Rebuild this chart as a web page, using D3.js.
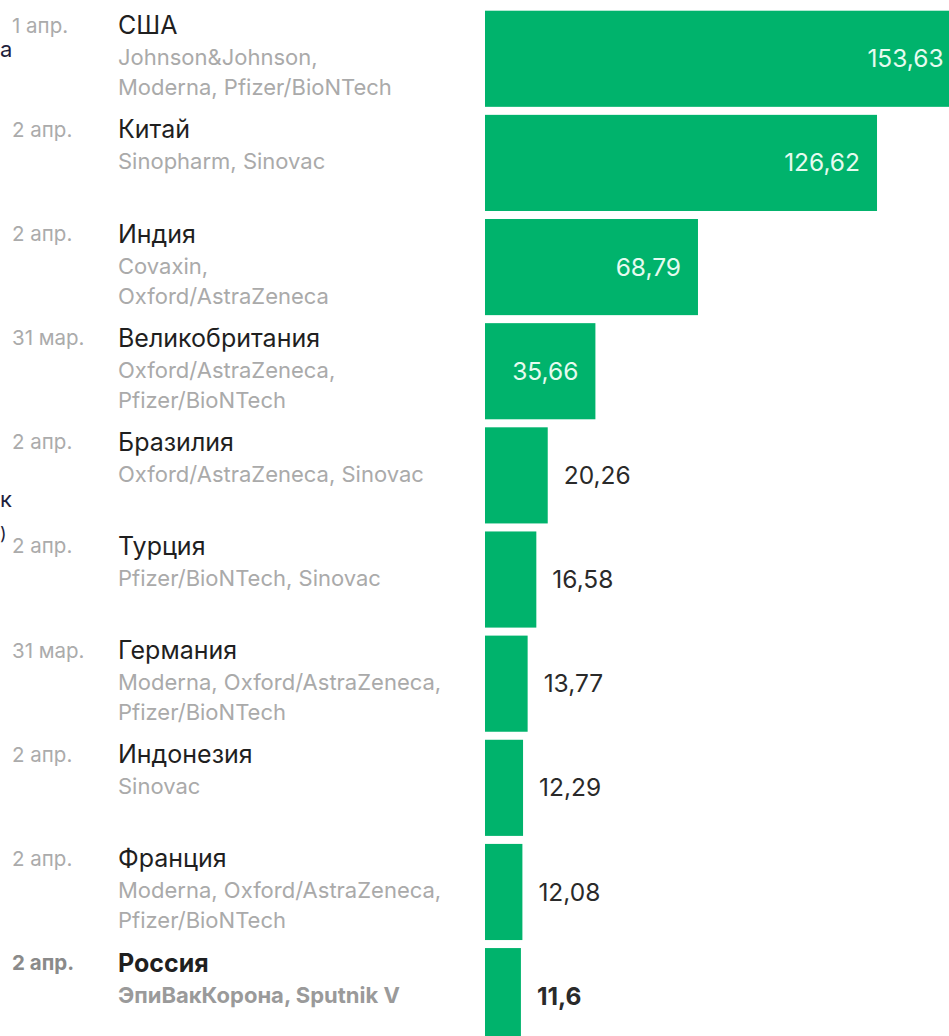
<!DOCTYPE html>
<html>
<head>
<meta charset="utf-8">
<script src="https://cdn.jsdelivr.net/npm/d3@7"></script>
<style>
  html, body { margin: 0; padding: 0; background: #fff; overflow: hidden; }
  svg { display: block; font-family: Inter, Roboto, "Noto Sans", sans-serif; }
</style>
</head>
<body>
<div id="container"></div>
<script>
// data
const countries = ['США', 'Китай', 'Индия', 'Великобритания', 'Бразилия',
                   'Турция', 'Германия', 'Индонезия', 'Франция', 'Россия'];
const dates = ['1 апр.', '2 апр.', '2 апр.', '31 мар.', '2 апр.',
               '2 апр.', '31 мар.', '2 апр.', '2 апр.', '2 апр.'];
const vaccines = [
    ['Johnson&Johnson,', 'Moderna, Pfizer/BioNTech'],
    ['Sinopharm, Sinovac'],
    ['Covaxin,', 'Oxford/AstraZeneca'],
    ['Oxford/AstraZeneca,', 'Pfizer/BioNTech'],
    ['Oxford/AstraZeneca, Sinovac'],
    ['Pfizer/BioNTech, Sinovac'],
    ['Moderna, Oxford/AstraZeneca,', 'Pfizer/BioNTech'],
    ['Sinovac'],
    ['Moderna, Oxford/AstraZeneca,', 'Pfizer/BioNTech'],
    ['ЭпиВакКорона, Sputnik V']
];
// млн доз
const values = [153.63, 126.62, 68.79, 35.66, 20.26, 16.58, 13.77, 12.29, 12.08, 11.6];
const highlight = 'Россия';

// svg dimensions
const w = 949;
const h = 1036;

const svg = d3.select('#container')
                .append('svg')
                .attr('width', w)
                .attr('height', h);

// scales
const xScale = d3.scaleLinear()
                .domain([0, 100])
                .range([485, 794.6]);

const yScale = d3.scaleBand()
                .domain(countries)
                .range([10.7, 1044.2])
                .paddingInner(0.077)
                .paddingOuter(0);

const fmt = v => String(v).replace('.', ',');

// bits of a neighbouring text block peeking in at the left edge
const edge = svg.append('g')
    .attr('fill', '#1e1e3c')
    .style('font-size', '22px');
edge.append('text').attr('x', 0).attr('y', 57).text('а');
edge.append('text').attr('x', 0).attr('y', 507).text('к');
edge.append('text').attr('x', 0).attr('y', 540).style('font-size', '18px').text(')');

const rows = svg.append('g')
    .selectAll('g')
    .data(countries)
    .join('g')
    .attr('transform', d => `translate(0, ${yScale(d)})`)
    .style('font-weight', d => d === highlight ? 700 : 400);

// dates
rows.append('text')
    .attr('x', 12)
    .attr('y', 22)
    .attr('fill', d => d === highlight ? '#8a8a8a' : '#ababab')
    .style('font-size', '20.5px')
    .text((d, i) => dates[i]);

// country names
rows.append('text')
    .attr('x', 118)
    .attr('y', 23.5)
    .attr('fill', '#1f1f1f')
    .style('font-size', '25px')
    .text(d => d);

// vaccines
rows.each(function (d, i) {
    d3.select(this).append('text')
        .attr('x', 118)
        .attr('fill', d === highlight ? '#9a9a9a' : '#aaaaaa')
        .style('font-size', '22px')
        .selectAll('tspan')
        .data(vaccines[i])
        .join('tspan')
        .attr('x', 118)
        .attr('y', (s, j) => 54.5 + j * 30)
        .text(s => s);
});

// bars
svg.append('g')
    .selectAll('rect')
    .data(countries)
    .join('rect')
    .attr('x', xScale(0))
    .attr('y', d => yScale(d))
    .attr('width', (d, i) => xScale(values[i]) - xScale(0))
    .attr('height', yScale.bandwidth())
    .attr('fill', '#00b36c');

// value labels
svg.append('g')
    .selectAll('text')
    .data(countries)
    .join('text')
    .attr('x', (d, i) => values[i] > 30 ? xScale(values[i]) - 17 : xScale(values[i]) + 16)
    .attr('y', d => yScale(d) + yScale.bandwidth() / 2)
    .attr('dy', '0.35em')
    .attr('text-anchor', (d, i) => values[i] > 30 ? 'end' : 'start')
    .attr('fill', (d, i) => values[i] > 30 ? '#e6fbf0' : '#2a2a2a')
    .style('font-size', '24.5px')
    .style('font-weight', d => d === highlight ? 700 : 400)
    .text((d, i) => fmt(values[i]));
</script>
</body>
</html>
